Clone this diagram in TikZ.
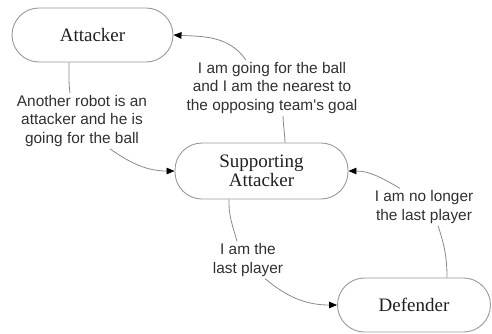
\documentclass[tikz,border=0pt]{standalone}
\usepackage{fontspec}
\setmainfont{Liberation Serif}
\newfontfamily\labfont{Liberation Sans}
\usetikzlibrary{arrows.meta}
\definecolor{edgegray}{HTML}{8A8A8A}
\definecolor{boxgray}{HTML}{9A9A9A}
\definecolor{labtext}{HTML}{303030}
\definecolor{nodetext}{HTML}{202020}
\tikzset{
  state/.style={draw=boxgray, line width=0.9pt, rounded corners=27pt, fill=white,
    font=\fontsize{19}{19}\selectfont, text=nodetext, align=center, inner sep=0pt},
  lab/.style={font=\labfont\fontsize{15.4}{18.5}\selectfont, text=labtext, align=center, inner sep=2pt},
  conn/.style={draw=edgegray, line width=0.8pt},
  arr/.style={conn, -{Triangle[length=8pt,width=6.5pt,black]}}
}
\begin{document}
\begin{tikzpicture}[x=1pt,y=1pt]
\useasboundingbox (0,0) rectangle (492,333);
\node[state, minimum width=161pt, minimum height=54pt] (att) at (92.5,298) {Attacker};
\node[state, minimum width=173pt, minimum height=56pt] (sup) at (261.5,162) {Supporting\\Attacker};
\node[state, minimum width=153pt, minimum height=54pt] (def) at (414,28) {Defender};
\node[lab] (l1) at (82,212) {Another robot is an\\attacker and he is\\going for the ball};
\node[lab] (l2) at (272,245) {I am going for the ball\\and I am the nearest to\\the opposing team's goal};
\node[lab] (l3) at (248,73) {I am the\\last player};
\node[lab] (l4) at (424,126) {I am no longer\\the last player};
% Attacker -> Supporting
\draw[conn] ([xshift=-23.5pt]att.south) to[out=-88,in=98] ([xshift=-12pt]l1.north);
\draw[arr] ([xshift=28pt]l1.south) to[out=-35,in=180] (sup.west);
% Supporting -> Attacker
\draw[conn] ([xshift=23.5pt]sup.north) to[out=92,in=-88] ([xshift=11pt]l2.south);
\draw[arr] ([xshift=-26pt]l2.north) to[out=125,in=-3] (att.east);
% Supporting -> Defender
\draw[conn] ([xshift=-32.5pt]sup.south) to[out=-92,in=105] ([xshift=-11pt]l3.north);
\draw[arr] ([xshift=17pt]l3.south) to[out=-40,in=180] (def.west);
% Defender -> Supporting
\draw[conn] ([xshift=33pt]def.north) to[out=90,in=-72] ([xshift=14pt]l4.south);
\draw[arr] ([xshift=-24pt]l4.north) to[out=150,in=0] (sup.east);
\end{tikzpicture}
\end{document}
